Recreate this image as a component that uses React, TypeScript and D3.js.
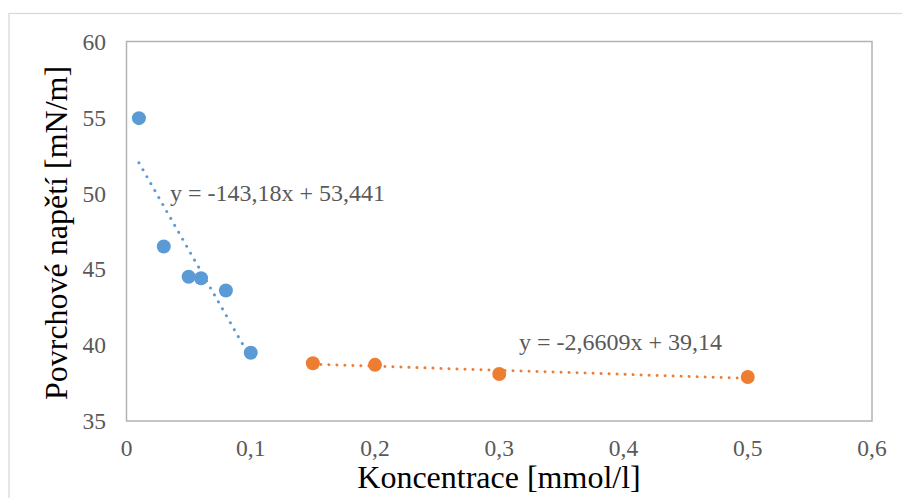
import React from 'react';
import * as d3 from 'd3';

const blueX = [0.01, 0.03, 0.05, 0.06, 0.08, 0.1];
const blueY = [54.95, 46.5, 44.5, 44.4, 43.6, 39.5];
const orangeX = [0.15, 0.2, 0.3, 0.5];
const orangeY = [38.8, 38.7, 38.1, 37.9];
const xTicks = [0, 0.1, 0.2, 0.3, 0.4, 0.5, 0.6];
const yTicks = [35, 40, 45, 50, 55, 60];
const blueFit = { slope: -143.18, intercept: 53.441, label: 'y = -143,18x + 53,441' };
const orangeFit = { slope: -2.6609, intercept: 39.14, label: 'y = -2,6609x + 39,14' };

const W = 902;
const H = 498;
const font = '"Liberation Serif", "Times New Roman", serif';

const App = () => {
  const x = d3.scaleLinear().domain([0, 0.6]).range([126.5, 872]);
  const y = d3.scaleLinear().domain([35, 60]).range([421, 41.5]);
  const fmt = (v: number) => String(v).replace('.', ',');

  // trendline drawn only over the range of its own points
  const fitLine = (xs: number[], fit: { slope: number; intercept: number }) => {
    const ext = d3.extent(xs) as [number, number];
    return d3.line<number>()
      .x(d => x(d))
      .y(d => y(fit.slope * d + fit.intercept))(ext) || '';
  };

  return (
    <svg width={W} height={H} style={{ position: 'absolute', left: 0, top: 0 }}>
      <rect x={0} y={0} width={W} height={H} fill="#fff" />
      <rect x={9} y={13.5} width={W + 20} height={H + 20} fill="none" stroke="#d9d9d9" strokeWidth={1.3} />
      <rect x={x(0)} y={y(60)} width={x(0.6) - x(0)} height={y(35) - y(60)}
        fill="none" stroke="#b3b3b3" strokeWidth={1.5} />

      {yTicks.map(t => (
        <text key={t} x={106} y={y(t)} dy="0.35em" textAnchor="end"
          fontFamily={font} fontSize={23.5} fill="#595959">{t}</text>
      ))}
      {xTicks.map(t => (
        <text key={t} x={x(t)} y={455.5} textAnchor="middle"
          fontFamily={font} fontSize={23.5} fill="#595959">{fmt(t)}</text>
      ))}

      <text x={499} y={488} textAnchor="middle" fontFamily={font} fontSize={32} fill="#000">
        Koncentrace [mmol/l]
      </text>
      <text transform={`translate(67,233) rotate(-90)`} textAnchor="middle"
        fontFamily={font} fontSize={32} fill="#000">
        Povrchové napětí [mN/m]
      </text>

      <path d={fitLine(blueX, blueFit)} fill="none" stroke="#5B9BD5" strokeWidth={3}
        strokeDasharray="0.01 8" strokeLinecap="round" />
      <path d={fitLine(orangeX, orangeFit)} fill="none" stroke="#ED7D31" strokeWidth={3}
        strokeDasharray="0.01 8" strokeLinecap="round" />

      {blueX.map((v, i) => (
        <circle key={'b' + i} cx={x(v)} cy={y(blueY[i])} r={7} fill="#5B9BD5" />
      ))}
      {orangeX.map((v, i) => (
        <circle key={'o' + i} cx={x(v)} cy={y(orangeY[i])} r={7} fill="#ED7D31" />
      ))}

      <text x={170} y={201} fontFamily={font} fontSize={24} fill="#595959">{blueFit.label}</text>
      <text x={519} y={350} fontFamily={font} fontSize={24} fill="#595959">{orangeFit.label}</text>
    </svg>
  );
};

export default App;
